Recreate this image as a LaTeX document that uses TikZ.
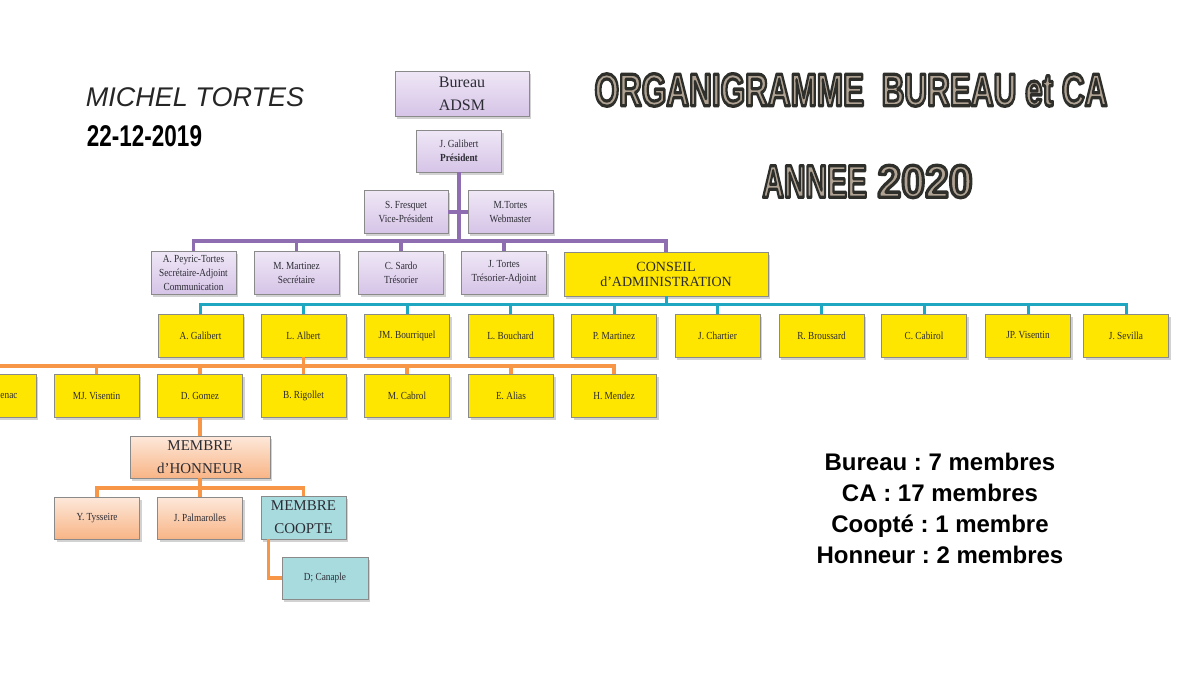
\documentclass[tikz,border=0pt]{standalone}
\usepackage{fontspec}
\setmainfont{Liberation Serif}
\newfontfamily\arialfont{Liberation Sans}
\newfontfamily\cardfont{Liberation Serif}[FakeStretch=0.86]
\usetikzlibrary{shadows}

\definecolor{linkpurple}{HTML}{8E6DB0}
\definecolor{linkteal}{HTML}{1FA6C1}
\definecolor{linkorange}{HTML}{F79646}
\definecolor{cayellow}{HTML}{FFE600}
\definecolor{liltop}{HTML}{EFE7F6}
\definecolor{lilbot}{HTML}{D6C4E7}
\definecolor{peachtop}{HTML}{FDE8DA}
\definecolor{peachbot}{HTML}{F8B586}
\definecolor{coopblue}{HTML}{A8DBDE}
\definecolor{cardline}{HTML}{8A8A8A}
\definecolor{ink}{HTML}{2C2C34}
\definecolor{wordfill}{HTML}{B0A393}

% outlined condensed title letters
\newcommand{\wordart}[2][0.65]{\scalebox{#1}[1]{\arialfont\bfseries\fontsize{46}{46}\selectfont
  \special{pdf:literal direct 0.18 0.18 0.17 RG 3.3 w 1 j 2 Tr}#2\special{pdf:literal direct 0 Tr 1 w}}}

\tikzset{
  card/.style={draw=cardline, line width=0.7pt, minimum width=85pt, minimum height=43pt,
    inner sep=1pt, align=center, text=ink, font=\cardfont\fontsize{10.8}{14}\selectfont,
    drop shadow={shadow xshift=2pt, shadow yshift=-2.5pt, opacity=0.35}},
  bureaucard/.style={card, top color=liltop, bottom color=lilbot},
  cacard/.style={card, fill=cayellow},
  honcard/.style={card, top color=peachtop, bottom color=peachbot},
  coopcard/.style={card, fill=coopblue},
  purplelink/.style={draw=linkpurple, line width=3.5pt},
  teallink/.style={draw=linkteal, line width=3pt},
  orangelink/.style={draw=linkorange, line width=3.5pt},
}

\begin{document}
\begin{tikzpicture}[x=1pt, y=-1pt]
    \path[use as bounding box, fill=white] (0,0) rectangle (1200,675);
    \clip (0,0) rectangle (1200,675);

    % author and date
    \node[text=black!85] (author) at (195,97.5) {\arialfont\itshape\fontsize{27}{27}\selectfont MICHEL TORTES};
    \node (date) at (144.5,136) {\scalebox{0.75}[1]{\arialfont\bfseries\fontsize{30}{30}\selectfont 22-12-2019}};

    % title
    \node[text=wordfill] (titleA) at (851,90) {\wordart[0.685]{ORGANIGRAMME\ \ BUREAU et CA}};
    \node[text=wordfill] (titleB) at (867.5,181.5) {\wordart{ANNEE\hspace{0.35em}\scalebox{1.43}[1]{2020}}};

    % bureau
    \node[bureaucard, minimum width=134pt, minimum height=45pt, font=\fontsize{16}{22.7}\selectfont] (bureau) at (462,93.5) {Bureau\\ADSM};
    \node[bureaucard, minimum height=42pt] (pres) at (459,151) {J. Galibert\\\textbf{Président}};
    \node[bureaucard, minimum width=84pt] (vice) at (406,212) {S. Fresquet\\Vice-Président};
    \node[bureaucard] (webm) at (510.5,212) {M.Tortes\\Webmaster};
    \node[bureaucard] (secadj) at (193.5,272.5) {A. Peyric-Tortes\\Secrétaire-Adjoint\\Communication};
    \node[bureaucard] (secr) at (296.5,272.5) {M. Martinez\\Secrétaire};
    \node[bureaucard] (tres) at (401,272.5) {C. Sardo\\Trésorier};
    \node[bureaucard] (tresadj) at (504,272.5) {J. Tortes\\Trésorier-Adjoint};
    \node[cacard, minimum width=204pt, minimum height=44pt, font=\fontsize{14}{15}\selectfont] (conseil) at (666,274) {CONSEIL\\d'ADMINISTRATION};

    % conseil d'administration
    \foreach \n/\x/\t in {agal/200.5/A. Galibert, lalb/303.5/L. Albert, jmbou/407/JM. Bourriquel,
        lbou/510.5/L. Bouchard, pmar/614/P. Martinez, jcha/717.5/J. Chartier, rbro/821.5/R. Broussard,
        ccab/924/C. Cabirol, jpvis/1028/JP. Visentin, jsev/1126/J. Sevilla}
        \node[cacard] (\n) at (\x,335.5) {\t};

    \node[cacard] (cut) at (-6.5,396) {\hspace*{31pt}enac};
    \foreach \n/\x/\t in {mjvis/96.5/MJ. Visentin, dgom/200/D. Gomez, brig/303.5/B. Rigollet,
        mcab/407/M. Cabrol, eali/511/E. Alias, hmen/614/H. Mendez}
        \node[cacard] (\n) at (\x,396) {\t};

    % honneur and coopte
    \node[honcard, minimum width=140pt, minimum height=42pt, font=\fontsize{15}{23}\selectfont] (honneur) at (200,457) {MEMBRE\\d'HONNEUR};
    \node[honcard, minimum height=42pt] (tyss) at (97,518) {Y. Tysseire};
    \node[honcard, minimum height=42pt] (palm) at (200,518) {J. Palmarolles};
    \node[coopcard, font=\fontsize{15}{23}\selectfont] (coopte) at (303.5,517.5) {MEMBRE\\COOPTE};
    \node[coopcard, minimum width=86pt, minimum height=42pt] (canaple) at (325,578) {D; Canaple};

    % buses
    \coordinate (busP) at (0,241);
    \coordinate (busT) at (0,304);
    \coordinate (busO) at (0,366);
    \coordinate (busH) at (0,488);

    % purple links
    \draw[purplelink] (pres.south) -- (pres.south |- busP);
    \draw[purplelink] (vice.east) -- (webm.west);
    \draw[purplelink] (secadj.north) -- (secadj.north |- busP) -- (conseil.north |- busP) -- (conseil.north);
    \foreach \n in {secr,tres,tresadj}
        \draw[purplelink] (\n.north) -- (\n.north |- busP);

    % teal links
    \draw[teallink] (conseil.south) -- (conseil.south |- busT);
    \draw[teallink] (agal.north) -- (agal.north |- busT) -- (jsev.north |- busT) -- (jsev.north);
    \foreach \n in {lalb,jmbou,lbou,pmar,jcha,rbro,ccab,jpvis}
        \draw[teallink] (\n.north) -- (\n.north |- busT);

    % orange links
    \draw[orangelink] (lalb.south) -- (lalb.south |- busO);
    \draw[orangelink] (cut.north) -- (cut.north |- busO) -- (hmen.north |- busO) -- (hmen.north);
    \foreach \n in {mjvis,dgom,brig,mcab,eali}
        \draw[orangelink] (\n.north) -- (\n.north |- busO);
    \draw[orangelink] (dgom.south) -- (honneur.north);
    \draw[orangelink] (honneur.south) -- (honneur.south |- busH);
    \draw[orangelink] (tyss.north) -- (tyss.north |- busH) -- (coopte.north |- busH) -- (coopte.north);
    \draw[orangelink] (palm.north) -- (palm.north |- busH);
    \draw[orangelink] ([xshift=8pt]coopte.south west) |- (canaple.west);

    % totals
    \node[font=\arialfont\bfseries\frenchspacing\fontsize{24}{31}\selectfont, align=center] (totals) at (940,508) {Bureau : 7 membres\\CA : 17 membres\\Coopté : 1 membre\\Honneur : 2 membres};
\end{tikzpicture}
\end{document}
